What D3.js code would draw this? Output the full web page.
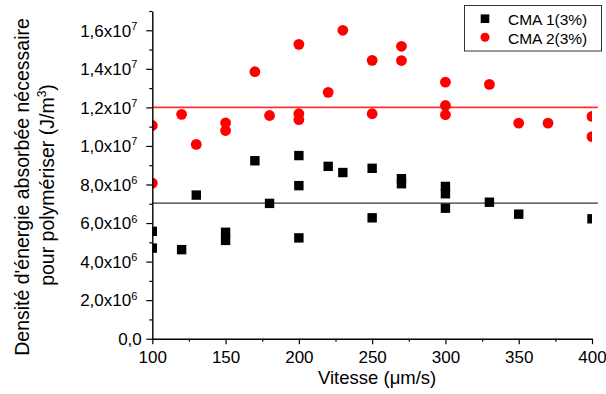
<!DOCTYPE html>
<html>
<head>
<meta charset="utf-8">
<script src="https://cdn.jsdelivr.net/npm/d3@7"></script>
<style>
  html, body { margin: 0; padding: 0; background: #fff; }
  svg { display: block; font-family: "Liberation Sans", Arial, sans-serif; }
</style>
</head>
<body>
<svg id="chart" width="606" height="394"></svg>
<script>
// ---- Data ----
const cma1X = [100, 100, 120, 130, 150, 150, 170, 180, 200, 200, 200, 220, 230, 250, 250, 270, 270, 300, 300, 300, 330, 350, 400];
const cma1Y = [5.57e6, 4.70e6, 4.62e6, 7.45e6, 5.52e6, 5.10e6, 9.23e6, 7.02e6, 9.50e6, 7.94e6, 5.23e6, 8.94e6, 8.62e6, 8.84e6, 6.27e6, 8.30e6, 8.04e6, 7.90e6, 7.52e6, 6.77e6, 7.08e6, 6.46e6, 6.22e6];

const cma2X = [100, 100, 120, 130, 150, 150, 170, 180, 200, 200, 200, 220, 230, 250, 250, 270, 270, 300, 300, 300, 330, 350, 370, 400, 400];
const cma2Y = [11.06e6, 8.07e6, 11.64e6, 10.08e6, 11.20e6, 10.80e6, 13.85e6, 11.58e6, 15.27e6, 11.67e6, 11.36e6, 12.78e6, 16.00e6, 14.44e6, 11.67e6, 15.17e6, 14.43e6, 13.31e6, 12.10e6, 11.62e6, 13.19e6, 11.18e6, 11.18e6, 11.53e6, 10.48e6];

const cma1Ref = 7.03e6;   // horizontal reference line, CMA 1
const cma2Ref = 12.0e6;   // horizontal reference line, CMA 2
const refLineX = [100, 404];

const seriesNames = ["CMA 1(3%)", "CMA 2(3%)"];

const xTickValues = [100, 150, 200, 250, 300, 350, 400];
const xTickLabels = ["100", "150", "200", "250", "300", "350", "400"];
const xMinorValues = [125, 175, 225, 275, 325, 375];

const yTickValues = [0, 2e6, 4e6, 6e6, 8e6, 1e7, 1.2e7, 1.4e7, 1.6e7];
const yTickMantissa = ["0,0", "2,0x10", "4,0x10", "6,0x10", "8,0x10", "1,0x10", "1,2x10", "1,4x10", "1,6x10"];
const yTickExponent = ["", "6", "6", "6", "6", "7", "7", "7", "7"];
const yMinorValues = [1e6, 3e6, 5e6, 7e6, 9e6, 1.1e7, 1.3e7, 1.5e7, 1.7e7];

const xTitle = ["Vitesse (", "μ", "m/s)"];
const yTitleLine1 = "Densité d'énergie absorbée nécessaire";
const yTitleLine2 = ["pour polymériser (J/m", "3", ")"];

// ---- Layout ----
const svg = d3.select("#chart");
const x = d3.scaleLinear().domain([100, 400]).range([152.3, 592]);
const y = d3.scaleLinear().domain([0, 1.7e7]).range([338.7, 11]);

const defs = svg.append("defs");
defs.append("clipPath").attr("id", "plotClip")
  .append("rect").attr("x", x(100)).attr("y", 0).attr("width", x(400) - x(100)).attr("height", 394);

// Reference lines
const refG = svg.append("g").attr("fill", "none");
refG.append("line")
  .attr("x1", x(refLineX[0])).attr("x2", x(refLineX[1]))
  .attr("y1", y(cma1Ref)).attr("y2", y(cma1Ref))
  .style("stroke", "#333").style("stroke-width", "1.3px");
refG.append("line")
  .attr("x1", x(refLineX[0])).attr("x2", x(refLineX[1]))
  .attr("y1", y(cma2Ref)).attr("y2", y(cma2Ref))
  .style("stroke", "#ff3030").style("stroke-width", "1.6px");

// Markers
const plot = svg.append("g").attr("clip-path", "url(#plotClip)");
const sq = 9.4;
plot.append("g").selectAll("rect").data(cma1X.map((v, i) => [v, cma1Y[i]])).join("rect")
  .attr("x", d => x(d[0]) - sq / 2).attr("y", d => y(d[1]) - sq / 2)
  .attr("width", sq).attr("height", sq).attr("fill", "#000");
plot.append("g").selectAll("circle").data(cma2X.map((v, i) => [v, cma2Y[i]])).join("circle")
  .attr("cx", d => x(d[0])).attr("cy", d => y(d[1])).attr("r", 5.4).attr("fill", "#ff0000");

// Axes
const axisColor = "#000";
const xAxis = svg.append("g").attr("transform", `translate(0,${y(0)})`)
  .call(d3.axisBottom(x).tickValues(xTickValues).tickSize(5.5).tickSizeOuter(0)
    .tickFormat((d, i) => xTickLabels[i]));
svg.append("g").attr("transform", `translate(0,${y(0)})`)
  .call(d3.axisBottom(x).tickValues(xMinorValues).tickSize(3).tickSizeOuter(0).tickFormat(""))
  .select(".domain").remove();

const yAxis = svg.append("g").attr("transform", `translate(${x(100)},0)`)
  .call(d3.axisLeft(y).tickValues(yTickValues).tickSize(6).tickSizeOuter(0).tickFormat(""));
svg.append("g").attr("transform", `translate(${x(100)},0)`)
  .call(d3.axisLeft(y).tickValues(yMinorValues).tickSize(3).tickSizeOuter(0).tickFormat(""))
  .select(".domain").remove();

svg.selectAll(".domain").attr("stroke", axisColor).attr("stroke-width", 1.4);
svg.selectAll(".tick line").attr("stroke", axisColor).attr("stroke-width", 1.2);

xAxis.selectAll(".tick text")
  .attr("y", 12.6).attr("dy", "0.71em")
  .attr("font-size", 17).attr("font-family", "Liberation Sans, Arial, sans-serif").attr("fill", "#000");

yAxis.selectAll(".tick").each(function (d, i) {
  const t = d3.select(this).append("text")
    .attr("x", yTickExponent[i] ? -15 : -10.5).attr("dy", "0.34em")
    .attr("text-anchor", "end").attr("font-size", 17).attr("fill", "#000")
    .attr("font-family", "Liberation Sans, Arial, sans-serif");
  t.append("tspan").text(yTickMantissa[i]);
  if (yTickExponent[i]) {
    t.append("tspan").attr("font-size", 11).attr("dy", -6.8).text(yTickExponent[i]);
  }
});

// Axis titles
const xt = svg.append("text").attr("x", x(250) + 5).attr("y", 383.5)
  .attr("text-anchor", "middle").attr("font-size", 18.5).attr("fill", "#000");
xt.append("tspan").text(xTitle[0]);
xt.append("tspan").text(xTitle[1]);
xt.append("tspan").text(xTitle[2]);

svg.append("text").attr("transform", "translate(28.5,187) rotate(-90)")
  .attr("text-anchor", "middle").attr("font-size", 19.5).attr("fill", "#000")
  .text(yTitleLine1);
const yt2 = svg.append("text").attr("transform", "translate(53.5,185) rotate(-90)")
  .attr("text-anchor", "middle").attr("font-size", 19.5).attr("fill", "#000");
yt2.append("tspan").text(yTitleLine2[0]);
yt2.append("tspan").attr("font-size", 12).attr("dy", -8).text(yTitleLine2[1]);
yt2.append("tspan").attr("dy", 8).text(yTitleLine2[2]);

// Legend
const lg = svg.append("g");
lg.append("rect").attr("x", 464.5).attr("y", 5.5).attr("width", 137).attr("height", 45.5)
  .attr("fill", "#fff").attr("stroke", "#333").attr("stroke-width", 1);
lg.append("rect").attr("x", 485 - 4.3).attr("y", 18.7 - 4.3).attr("width", 8.6).attr("height", 8.6).attr("fill", "#000");
lg.append("circle").attr("cx", 485).attr("cy", 37.3).attr("r", 4.5).attr("fill", "#ff0000");
lg.selectAll("text").data(seriesNames).join("text")
  .attr("x", 508).attr("y", (d, i) => i === 0 ? 25 : 44)
  .attr("font-size", 15.5).attr("fill", "#000").text(d => d);
</script>
</body>
</html>
